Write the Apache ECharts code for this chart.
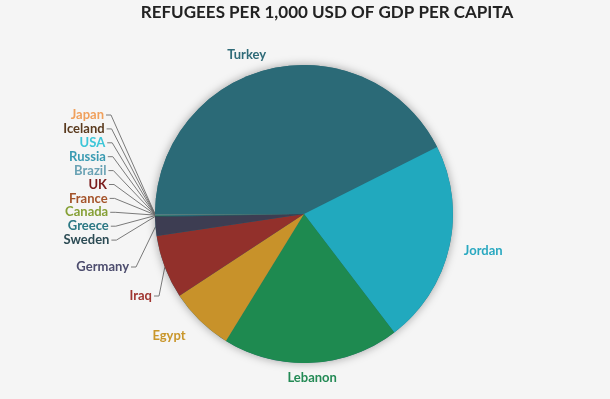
<!DOCTYPE html>
<html>
<head>
<meta charset="utf-8">
<script src="https://cdn.jsdelivr.net/npm/echarts@6/dist/echarts.min.js"></script>
<style>
  html, body { margin: 0; padding: 0; background: #f5f5f5; }
  #chart { width: 610px; height: 399px; }
</style>
</head>
<body>
<div id="chart"></div>
<script>
const countries = ['Turkey', 'Jordan', 'Lebanon', 'Egypt', 'Iraq', 'Germany', 'Sweden', 'Greece',
  'Canada', 'France', 'UK', 'Brazil', 'Russia', 'USA', 'Iceland', 'Japan']
const values = [153.3, 79.4, 68.9, 25.1, 24.8, 7.3, 0.45, 0.25, 0.15, 0.1, 0.08, 0.06, 0.05, 0.03, 0.02, 0.01]
const colors = ['#2b6a77', '#21a9be', '#1e8a50', '#c8922a', '#92302b', '#3d3d52', '#2c4b54', '#2b7884',
  '#86a036', '#a4532a', '#7a1c1c', '#6aa2b4', '#3a9bb2', '#3cc6d8', '#5a3a1e', '#f0a05c']
const labelColors = ['#2f6b78', '#29a8c0', '#238a55', '#c9962a', '#a03530', '#4d4d6e', '#2c4b54', '#2b7884',
  '#86a036', '#a4532a', '#7a1c1c', '#6aa2b4', '#3a9bb2', '#3cc6d8', '#5a3a1e', '#f0a05c']
const noLine = ['Turkey', 'Jordan', 'Lebanon', 'Egypt']

const cx = 304, cy = 214, R = 149
const total = values.reduce((a, b) => a + b, 0)

// mid angle (radians) of each slice, start at 180deg going clockwise
function midAngle(i) {
  let before = 0
  for (let k = 0; k < i; k++) before += values[k]
  return (180 - (before + values[i] / 2) / total * 360) * Math.PI / 180
}

// stacked label spots for the tiny slices on the left (right edge x, middle y)
function stackSpot(i) {
  if (i === 4) return [152, 296]
  if (i === 5) return [129, 267]
  const k = 15 - i
  return [104 + k * 0.6, 115 + k * 13.9]
}

const chart = echarts.init(document.getElementById('chart'), null, { renderer: 'canvas' })

const option = {
  backgroundColor: '#f5f5f5',
  title: {
    text: 'REFUGEES PER 1,000 USD OF GDP PER CAPITA',
    left: 322,
    top: -1,
    textAlign: 'center',
    textStyle: { fontFamily: 'Lato', fontWeight: 'bold', fontSize: 17, color: '#222' }
  },
  series: [
    {
      // shadow disc behind the pie
      type: 'pie',
      silent: true,
      center: [cx, cy],
      radius: R,
      label: { show: false },
      labelLine: { show: false },
      itemStyle: { color: '#2b6a77', shadowBlur: 10, shadowColor: 'rgba(0,0,0,0.35)' },
      data: [{ name: '', value: 1 }],
      animation: false
    },
    {
      type: 'pie',
      center: [cx, cy],
      radius: R,
      startAngle: 180,
      clockwise: true,
      animation: false,
      avoidLabelOverlap: false,
      label: {
        show: true,
        position: 'outside',
        formatter: '{b}',
        fontFamily: 'Lato',
        fontWeight: 'bold',
        fontSize: 13
      },
      labelLine: {
        length: 12,
        length2: 4,
        lineStyle: { color: '#7a7a7a', width: 1 }
      },
      labelLayout: function (params) {
        const i = params.dataIndex
        const a = midAngle(i)
        if (i < 4) {
          const c = Math.cos(a)
          const d = i === 3 ? 170 : 164
          const x = cx + d * c, y = cy - d * Math.sin(a)
          return { x: x, y: y, align: c < -0.15 ? 'right' : (c > 0.15 ? 'left' : 'center'), verticalAlign: 'middle' }
        }
        const s = stackSpot(i)
        const ex = cx + R * Math.cos(a), ey = cy - R * Math.sin(a)
        return {
          x: s[0], y: s[1], align: 'right', verticalAlign: 'middle',
          labelLinePoints: [[ex, ey], [s[0] + 7, s[1]], [s[0] + 2, s[1]]]
        }
      },
      data: countries.map((c, i) => ({
        name: c,
        value: values[i],
        itemStyle: { color: colors[i] },
        label: { color: labelColors[i] },
        labelLine: { show: noLine.indexOf(c) < 0 }
      }))
    }
  ]
}

chart.setOption(option)
window.addEventListener('resize', chart.resize)
</script>
</body>
</html>
